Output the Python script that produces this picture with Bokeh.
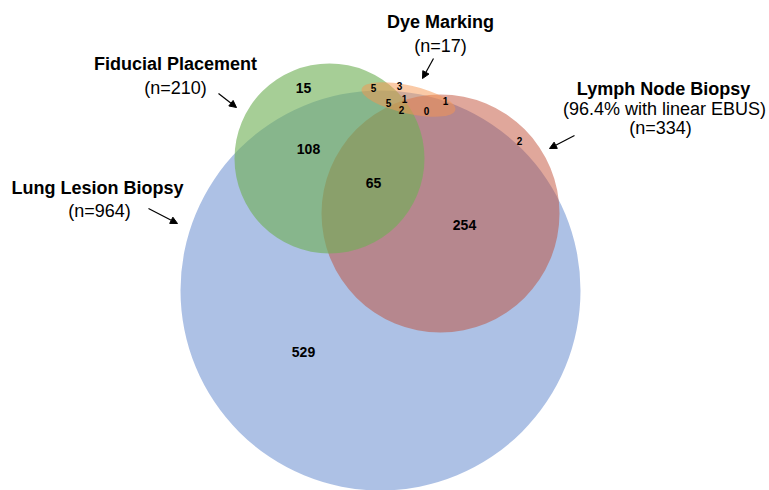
from bokeh.plotting import figure
from bokeh.models import Range1d, Arrow, NormalHead, ColumnDataSource
from bokeh.core.properties import value
from bokeh.embed import file_html
from bokeh.resources import INLINE

# ---- data ----
set_names = ["Lung Lesion Biopsy", "Lymph Node Biopsy", "Fiducial Placement", "Dye Marking"]
set_sizes = [964, 334, 210, 17]
set_notes = ["", "(96.4% with linear EBUS)", "", ""]

region_counts = [15, 108, 65, 254, 529, 2]
dye_counts = [5, 3, 1, 5, 1, 2, 0]

# ---- layout (pixel space) ----
circ_x = [380, 440, 329]
circ_y = [290, 213, 158]
circ_r = [200, 119, 95]
circ_color = ["#4472c4", "#c04b33", "#6fb055"]
circ_alpha = [0.44, 0.49, 0.62]

region_x = [303, 308, 373, 464, 303, 519]
region_y = [87, 148, 182, 224, 351, 140]
region_size = ["14px", "14px", "14px", "14px", "14px", "10px"]

dye_x = [373, 399, 404, 388, 445, 401, 426]
dye_y = [87, 85, 98, 102, 100, 109, 110]

p = figure(width=769, height=490, x_range=Range1d(0, 769), y_range=Range1d(490, 0),
           x_axis_type=None, y_axis_type=None, toolbar_location=None,
           output_backend="svg", min_border=0)
p.outline_line_color = None
p.grid.visible = False
p.background_fill_color = "white"

FONT = value("Liberation Sans")

for i in range(3):
    p.circle(x=[circ_x[i]], y=[circ_y[i]], radius=circ_r[i], fill_color=circ_color[i],
             fill_alpha=circ_alpha[i], line_color=None)

p.ellipse(x=[408], y=[99], width=96, height=28, angle=-0.22, fill_color="#f59650",
          fill_alpha=0.5, line_color=None)

src = ColumnDataSource(dict(x=region_x, y=region_y, t=[str(v) for v in region_counts], s=region_size))
p.text(x="x", y="y", text="t", source=src, text_font=FONT, text_font_size="s",
       text_font_style="bold", text_align="center", text_baseline="middle", text_color="black")

src2 = ColumnDataSource(dict(x=dye_x, y=dye_y, t=[str(v) for v in dye_counts]))
p.text(x="x", y="y", text="t", source=src2, text_font=FONT, text_font_size="10px",
       text_font_style="bold", text_align="center", text_baseline="middle", text_color="black")

# set labels
title_x = [97, 663, 175, 440]
title_y = [187, 88, 63, 21]
n_x = [99, 660, 175, 440]
n_y = [210, 127, 87, 45]

p.text(x=title_x, y=title_y, text=set_names, text_font=FONT, text_font_size="18px",
       text_font_style="bold", text_align="center", text_baseline="middle", text_color="black")
p.text(x=n_x, y=n_y, text=["(n=%d)" % v for v in set_sizes], text_font=FONT,
       text_font_size="18px", text_align="center", text_baseline="middle", text_color="black")
p.text(x=[664], y=[108], text=[set_notes[1]], text_font=FONT,
       text_font_size="18px", text_align="center", text_baseline="middle", text_color="black")

arrows = [((148, 208), (177, 223)), ((218, 93), (236, 107)), ((433, 58), (422, 78)), ((574, 135), (549, 148))]
for (x0, y0), (x1, y1) in arrows:
    p.add_layout(Arrow(end=NormalHead(size=7, fill_color="black", line_color="black"),
                       x_start=x0, y_start=y0, x_end=x1, y_end=y1, line_color="black", line_width=1.2))

open("out.html", "w").write(file_html(p, INLINE))
